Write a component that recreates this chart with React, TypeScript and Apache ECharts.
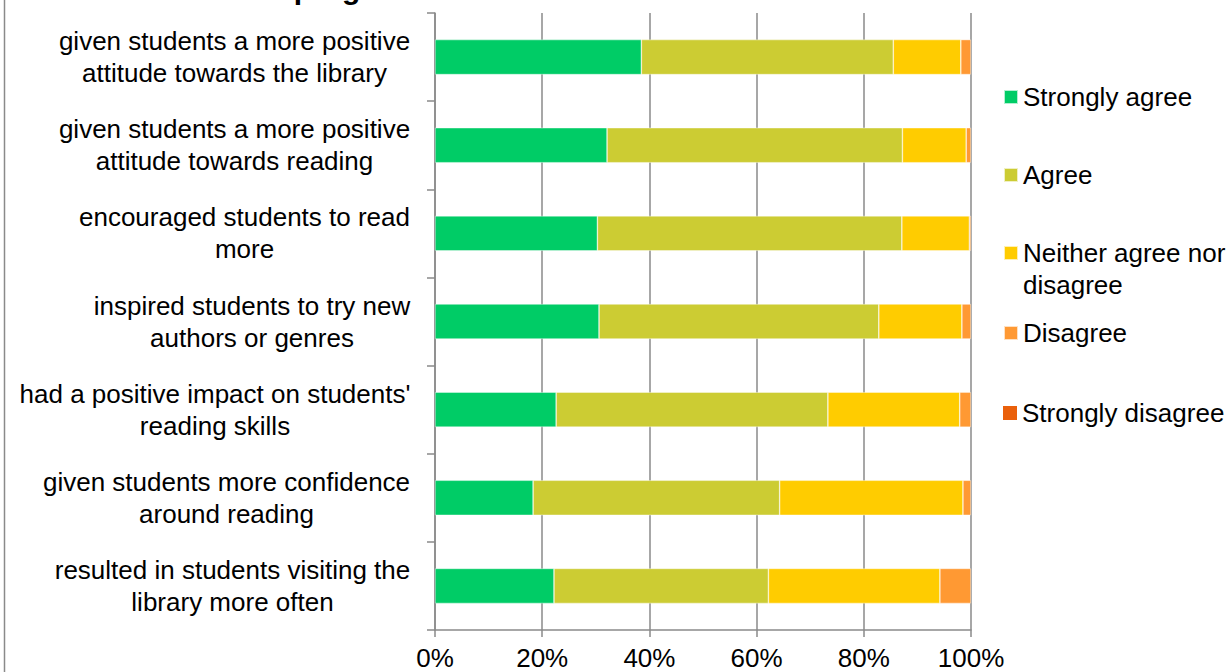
import React, { useEffect, useRef } from "react";
import * as echarts from "echarts";

const categories = [
  "given students a more positive\nattitude towards the library",
  "given students a more positive\nattitude towards reading",
  "encouraged students to read\nmore",
  "inspired students to try new\nauthors or genres",
  "had a positive impact on students'\nreading skills",
  "given students more confidence\naround reading",
  "resulted in students visiting the\nlibrary more often",
];

const seriesNames = [
  "Strongly agree",
  "Agree",
  "Neither agree nor disagree",
  "Disagree",
  "Strongly disagree",
];

const stronglyAgree = [38.5, 32.1, 30.3, 30.6, 22.6, 18.3, 22.2];
const agree = [47.0, 55.1, 56.8, 52.2, 50.7, 46.0, 40.0];
const neither = [12.6, 11.9, 12.6, 15.5, 24.6, 34.2, 32.0];
const disagree = [1.9, 0.9, 0.3, 1.7, 2.1, 1.5, 5.8];
const stronglyDisagree = [0, 0, 0, 0, 0, 0, 0];

const xTicks = [0, 20, 40, 60, 80, 100];

const title = "The book club program has:";

const colors = ["#00CC66", "#CCCC33", "#FFCC00", "#FF9933", "#EA600B"];
const FONT = "'Liberation Sans', Arial, sans-serif";
const FS = 26;
const LH = 32;

function measure(s: string): number {
  const c = document.createElement("canvas").getContext("2d");
  if (!c) return s.length * FS * 0.5;
  c.font = `${FS}px ${FONT}`;
  return c.measureText(s).width;
}

export default function App() {
  const ref = useRef<HTMLDivElement>(null);
  useEffect(() => {
    if (!ref.current) return;
    const chart = echarts.init(ref.current, undefined, { renderer: "svg" });
    const rich: Record<string, any> = {};
    categories.forEach((c, i) => {
      const w = Math.max(...c.split("\n").map(measure));
      rich["c" + i] = {
        width: Math.ceil(w) + 1,
        align: "center",
        fontSize: FS,
        lineHeight: LH,
        color: "#000",
        fontFamily: FONT,
      };
    });
    const values = [stronglyAgree, agree, neither, disagree, stronglyDisagree];
    const legendTops = [81, 159, 205, 317, 397];
    const textStyle = { fontSize: FS, lineHeight: LH, color: "#000", fontFamily: FONT };
    chart.setOption({
      animation: false,
      title: {
        text: title,
        left: 82,
        top: -27,
        padding: 0,
        textStyle: { fontSize: 30, fontWeight: "bold", color: "#000", fontFamily: FONT },
      },
      graphic: [
        {
          type: "line",
          shape: { x1: 4.5, y1: 0, x2: 4.5, y2: 672 },
          style: { stroke: "#8a8a8a", lineWidth: 1.5 },
        },
      ],
      legend: seriesNames.map((n, i) => ({
        data: [n],
        left: 1003,
        top: legendTops[i],
        orient: "vertical",
        padding: 0,
        itemWidth: 14,
        itemHeight: 14,
        icon: "rect",
        selectedMode: false,
        formatter: i === 2 ? () => "\nNeither agree nor\ndisagree" : "{name}",
        textStyle,
      })),
      grid: { left: 435, right: 261, top: 13, bottom: 42, containLabel: false },
      xAxis: {
        type: "value",
        min: xTicks[0],
        max: xTicks[xTicks.length - 1],
        interval: 20,
        axisLine: { show: true, lineStyle: { color: "#8a8a8a", width: 1.5 } },
        axisTick: { show: true, length: 7, lineStyle: { color: "#8a8a8a", width: 1.5 } },
        splitLine: { show: true, lineStyle: { color: "#8a8a8a", width: 1.5 } },
        axisLabel: {
          formatter: "{value}%",
          fontSize: FS,
          color: "#000",
          fontFamily: FONT,
          margin: 15,
        },
      },
      yAxis: {
        type: "category",
        inverse: true,
        data: categories,
        axisLine: { show: true, lineStyle: { color: "#8a8a8a", width: 1.5 } },
        axisTick: { show: true, length: 8, alignWithLabel: false, lineStyle: { color: "#8a8a8a", width: 1.5 } },
        splitLine: { show: false },
        axisLabel: {
          margin: 24,
          formatter: (v: string) => {
            const i = categories.indexOf(v);
            return v
              .split("\n")
              .map((l) => `{c${i}|${l}}`)
              .join("\n");
          },
          rich,
        },
      },
      series: seriesNames.map((n, i) => ({
        name: n,
        type: "bar",
        stack: "total",
        barWidth: 35,
        data: values[i],
        itemStyle: {
          color: colors[i],
          borderColor: "rgba(255,255,255,0.7)",
          borderWidth: i < 4 ? 0.6 : 0,
        },
      })),
    });
    return () => chart.dispose();
  }, []);
  return (
    <div
      ref={ref}
      style={{ position: "fixed", left: 0, top: 0, width: 1232, height: 672, background: "#fff" }}
    />
  );
}
